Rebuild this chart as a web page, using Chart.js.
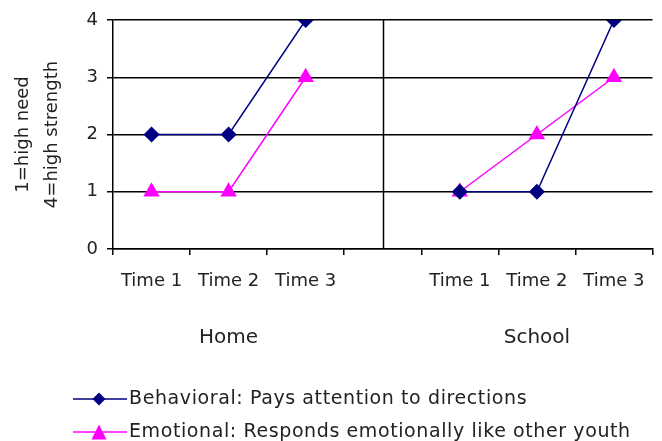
<!DOCTYPE html>
<html>
<head>
<meta charset="utf-8">
<script src="https://cdn.jsdelivr.net/npm/chart.js@4"></script>
<style>
  html, body { margin: 0; padding: 0; background: #fff; }
  #wrap { width: 662px; height: 441px; }
</style>
</head>
<body>
<div id="wrap"><canvas id="chart" width="662" height="441"></canvas></div>
<script>
// Chart data
const timeLabels = ['Time 1', 'Time 2', 'Time 3', '', 'Time 1', 'Time 2', 'Time 3'];
const groupNames = ['Home', 'School'];
const behavioral = [2, 2, 4, null, 1, 1, 4];
const emotional = [1, 1, 3, null, 1, 2, 3];
const yTicks = [0, 1, 2, 3, 4];
const yTitle = ['1=high need', '4=high strength'];
const seriesNames = ['Behavioral: Pays attention to directions', 'Emotional: Responds emotionally like other youth'];

const FONT = 'DejaVu Sans';
const TEXT = '#222';

// Divider between groups, group captions and the legend
const extras = {
  id: 'extras',
  afterDraw(chart) {
    const { ctx, scales: { x, y } } = chart;
    ctx.save();
    // divider at the empty slot
    const gap = timeLabels.indexOf('');
    const dx = Math.round(x.getPixelForValue(gap)) + 0.5;
    ctx.strokeStyle = '#000';
    ctx.lineWidth = 1.5;
    ctx.beginPath();
    ctx.moveTo(dx, y.top);
    ctx.lineTo(dx, y.bottom);
    ctx.stroke();

    // group names
    ctx.fillStyle = TEXT;
    ctx.font = `20px ${FONT}`;
    ctx.textAlign = 'center';
    ctx.textBaseline = 'middle';
    const groups = [[0, 1, 2], [4, 5, 6]];
    groups.forEach((g, i) => {
      const cx = g.reduce((s, k) => s + x.getPixelForValue(k), 0) / g.length;
      ctx.fillText(groupNames[i], cx, 338);
    });

    // legend
    ctx.textAlign = 'left';
    ctx.font = `19px ${FONT}`;
    ctx.letterSpacing = '0.6px';
    chart.data.datasets.forEach((ds, i) => {
      const ly = 399 + i * 33;
      ctx.strokeStyle = ds.borderColor;
      ctx.lineWidth = 1.5;
      ctx.beginPath();
      ctx.moveTo(73, ly);
      ctx.lineTo(127, ly);
      ctx.stroke();
      ctx.fillStyle = ds.pointBackgroundColor;
      ctx.beginPath();
      if (ds.pointStyle === 'rectRot') {
        ctx.moveTo(99, ly - 6.5);
        ctx.lineTo(105.5, ly);
        ctx.lineTo(99, ly + 6.5);
        ctx.lineTo(92.5, ly);
      } else {
        ctx.moveTo(99, ly - 7.5);
        ctx.lineTo(106.5, ly + 7.5);
        ctx.lineTo(91.5, ly + 7.5);
      }
      ctx.closePath();
      ctx.fill();
      ctx.fillStyle = TEXT;
      ctx.fillText(ds.label, 129, ly);
    });
    ctx.restore();
  }
};

new Chart(document.getElementById('chart'), {
  type: 'line',
  data: {
    labels: timeLabels,
    datasets: [{
      label: seriesNames[0],
      data: behavioral,
      borderColor: '#000080',
      backgroundColor: '#000080',
      pointBackgroundColor: '#000080',
      pointBorderColor: '#000080',
      borderWidth: 1.5,
      pointStyle: 'rectRot',
      pointRadius: 7,
      tension: 0,
      spanGaps: false,
    }, {
      label: seriesNames[1],
      data: emotional,
      borderColor: '#FF00FF',
      backgroundColor: '#FF00FF',
      pointBackgroundColor: '#FF00FF',
      pointBorderColor: '#FF00FF',
      borderWidth: 1.5,
      pointStyle: 'triangle',
      pointRadius: 8,
      tension: 0,
      spanGaps: false,
    }]
  },
  options: {
    responsive: false,
    animation: false,
    layout: { padding: { top: 20, right: 9, bottom: 0, left: 0 } },
    plugins: {
      legend: { display: false },
      tooltip: { enabled: false },
    },
    scales: {
      x: {
        offset: true,
        afterFit: (s) => { s.height = 192; },
        border: { color: '#000', width: 1.5 },
        grid: { offset: true, drawOnChartArea: false, color: '#000', lineWidth: 1.5, tickLength: 6 },
        ticks: { color: TEXT, font: { family: FONT, size: 18 }, padding: 16, maxRotation: 0, autoSkip: false },
      },
      y: {
        min: 0,
        max: 4,
        afterFit: (s) => { s.width = 113; },
        afterBuildTicks: (s) => { s.ticks = yTicks.map(v => ({ value: v })); },
        border: { color: '#000', width: 1.5 },
        grid: { color: '#000', lineWidth: 1.5, tickLength: 6 },
        ticks: { color: TEXT, font: { family: FONT, size: 18 }, padding: 9 },
        title: {
          display: true,
          text: yTitle,
          color: TEXT,
          font: { family: FONT, size: 18, lineHeight: 1.6 },
          padding: { top: 9, bottom: 0 },
        },
      }
    }
  },
  plugins: [extras]
});
</script>
</body>
</html>
